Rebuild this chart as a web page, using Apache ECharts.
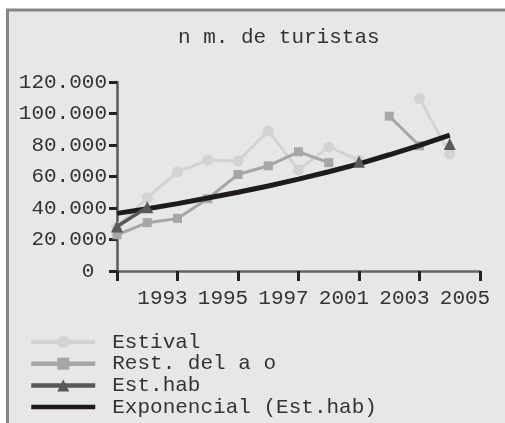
<!DOCTYPE html>
<html>
<head>
<meta charset="utf-8">
<script src="https://cdn.jsdelivr.net/npm/echarts@6/dist/echarts.min.js"></script>
<style>
  html, body { margin: 0; padding: 0; background: #ffffff; }
  #chart { width: 505px; height: 423px; }
</style>
</head>
<body>
<div id="chart"></div>
<script>
// Category slots along the x axis; only every second slot carries a year label
const slots = ['', '', '1993', '', '1995', '', '1997', '', '2001', '', '2003', '', '2005'];

// Tourist counts per slot (null = no observation)
const estival = [28000, 46500, 63000, 70400, 69800, 89000, 64200, 78800, 70300, null, 109600, 74400, null];
const restAno = [23000, 30700, 33400, 45900, 61300, 66800, 75700, 68800, null, 98300, 79500, null, null];
const estHab  = [28200, 40500, null, null, null, null, null, null, 69400, null, null, 80600, null];
// Exponential trend of Est.hab, read at every slot
const tendencia = [36600, 39500, 42800, 46300, 50000, 54000, 58300, 63000, 68000, 73800, 79800, 86300, null];

const yTicks = { min: 0, max: 120000, step: 20000 };

const mono = '"Liberation Mono", "DejaVu Sans Mono", monospace';
const textColor = '#333333';

const cEstival = '#d3d3d3';
const cRest = '#a6a6a6';
const cHab = '#595959';
const cTrend = '#1f1b1c';

function miles(v) {
  if (v === 0) return '0 ';
  return String(v).replace(/\B(?=(\d{3})+(?!\d))/g, '.');
}

const chart = echarts.init(document.getElementById('chart'), null, { renderer: 'canvas' });

chart.setOption({
  animation: false,
  backgroundColor: '#ffffff',
  graphic: [{
    type: 'rect',
    z: -10,
    silent: true,
    shape: { x: 7.5, y: 10, width: 510, height: 430 },
    style: { fill: '#e6e7e9', stroke: '#858585', lineWidth: 3 }
  }],
  title: {
    text: 'n m. de turistas',
    left: 178,
    top: 27,
    padding: 0,
    textStyle: { fontFamily: mono, fontSize: 21, fontWeight: 'normal', color: textColor }
  },
  legend: {
    orient: 'vertical',
    left: 29,
    top: 331.5,
    padding: 0,
    itemWidth: 64,
    itemHeight: 15,
    itemGap: 0.7,
    textStyle: { fontFamily: mono, fontSize: 21, color: textColor, lineHeight: 21, padding: [0, 0, 0, 12] },
    data: [
      { name: 'Estival', lineStyle: { width: 4.5 } },
      { name: 'Rest. del a o', lineStyle: { width: 4.5 } },
      { name: 'Est.hab', lineStyle: { width: 4.5 } },
      { name: 'Exponencial (Est.hab)', icon: 'path://M0,0H64V4.5H0Z' }
    ]
  },
  grid: { left: 117, right: 25, top: 82, bottom: 152, containLabel: false },
  xAxis: {
    type: 'category',
    boundaryGap: false,
    data: slots,
    axisLine: { show: true, lineStyle: { color: '#666666', width: 2.5 } },
    axisTick: { show: true, interval: 1, length: 10, lineStyle: { color: '#222222', width: 3 } },
    axisLabel: {
      interval: 1,
      margin: 17,
      padding: [0, 30, 0, 0],
      fontFamily: mono, fontSize: 21, color: textColor
    },
    splitLine: { show: false }
  },
  yAxis: {
    type: 'value',
    min: yTicks.min,
    max: yTicks.max,
    interval: yTicks.step,
    axisLine: { show: true, lineStyle: { color: '#5a5a5a', width: 2.5 } },
    axisTick: { show: true, length: 8, lineStyle: { color: '#222222', width: 3 } },
    axisLabel: {
      margin: 10,
      fontFamily: mono, fontSize: 21, color: textColor,
      padding: [4, 0, 0, 0],
      formatter: miles
    },
    splitLine: { show: false }
  },
  series: [
    {
      name: 'Estival',
      type: 'line',
      data: estival,
      connectNulls: false,
      symbol: 'circle',
      symbolSize: 11,
      showAllSymbol: true,
      itemStyle: { color: cEstival },
      lineStyle: { color: cEstival, width: 3 },
      z: 2
    },
    {
      name: 'Rest. del a o',
      type: 'line',
      data: restAno,
      connectNulls: false,
      symbol: 'rect',
      symbolSize: 9,
      showAllSymbol: true,
      itemStyle: { color: cRest },
      lineStyle: { color: cRest, width: 3 },
      z: 3
    },
    {
      name: 'Est.hab',
      type: 'line',
      data: estHab,
      connectNulls: false,
      symbol: 'triangle',
      symbolSize: 12,
      showAllSymbol: true,
      itemStyle: { color: cHab },
      lineStyle: { color: cHab, width: 3.5 },
      z: 5
    },
    {
      name: 'Exponencial (Est.hab)',
      type: 'line',
      data: tendencia,
      symbol: 'none',
      itemStyle: { color: cTrend },
      lineStyle: { color: cTrend, width: 5 },
      z: 4
    }
  ]
});
</script>
</body>
</html>
